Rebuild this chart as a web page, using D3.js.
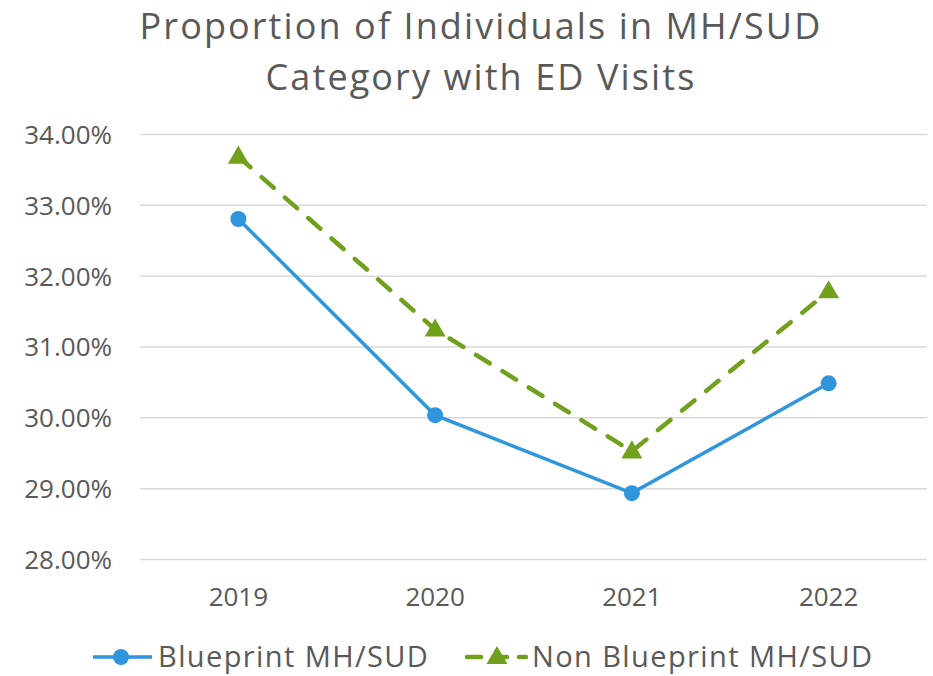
<!DOCTYPE html>
<html>
<head>
<meta charset="utf-8">
<script src="https://cdn.jsdelivr.net/npm/d3@7"></script>
<style>
  body { margin: 0; background: #fff; }
  svg { font-family: "Open Sans", Lato, sans-serif; }
</style>
</head>
<body>
<svg id="chart" width="933" height="676"></svg>
<script>
const years = ['2019', '2020', '2021', '2022'];
const blueprint = [32.80, 30.03, 28.93, 30.48];
const nonBlueprint = [33.68, 31.24, 29.52, 31.78];
const yTicks = [28, 29, 30, 31, 32, 33, 34];
const titleLines = ['Proportion of Individuals in MH/SUD', 'Category with ED Visits'];

const width = 933, height = 676;
const margin = { top: 134, right: 6, bottom: 117, left: 140 };
const blue = '#2f95dc', green = '#71a01d', textColor = '#595959';
const font = '"Open Sans", Lato, sans-serif';

const svg = d3.select('#chart');

const x = d3.scaleBand().domain(years).range([margin.left, width - margin.right]);
const y = d3.scaleLinear().domain([28, 34]).range([height - margin.bottom, margin.top]);

// title
svg.append('g').selectAll('text').data(titleLines).join('text')
  .attr('x', 481).attr('y', (d, i) => 39 + i * 51)
  .attr('text-anchor', 'middle').attr('font-size', 36).attr('letter-spacing', 2.1)
  .attr('fill', textColor)
  .text(d => d);

// grid + y axis
const yAxis = svg.append('g').attr('transform', `translate(${margin.left},0)`)
  .call(d3.axisLeft(y).tickValues(yTicks).tickFormat(d => d.toFixed(2) + '%')
    .tickSize(-(width - margin.left - margin.right)).tickPadding(28));
yAxis.select('.domain').remove();
yAxis.selectAll('line').attr('stroke', '#d9d9d9').attr('stroke-width', 1.5);
yAxis.selectAll('text').attr('font-size', 26).attr('fill', textColor)
  .attr('font-family', font).attr('dy', '0.36em');

// x axis
const xAxis = svg.append('g').attr('transform', `translate(0,${height - margin.bottom})`)
  .call(d3.axisBottom(x).tickSize(0).tickPadding(29));
xAxis.select('.domain').remove();
xAxis.selectAll('text').attr('font-size', 26).attr('fill', textColor)
  .attr('font-family', font);

const cx = d => x(d) + x.bandwidth() / 2;
const line = d3.line().x((d, i) => cx(years[i])).y(d => y(d));

svg.append('path').datum(nonBlueprint)
  .attr('d', line).attr('fill', 'none').attr('stroke', green)
  .attr('stroke-width', 4.5).attr('stroke-dasharray', '16 15').attr('stroke-linecap', 'round');

svg.append('path').datum(blueprint)
  .attr('d', line).attr('fill', 'none').attr('stroke', blue).attr('stroke-width', 3.5);

const tri = d3.symbol().type(d3.symbolTriangle).size(190);

svg.append('g').selectAll('path').data(nonBlueprint).join('path')
  .attr('d', tri).attr('fill', green)
  .attr('transform', (d, i) => `translate(${cx(years[i])},${y(d) + 1})`);

svg.append('g').selectAll('circle').data(blueprint).join('circle')
  .attr('cx', (d, i) => cx(years[i])).attr('cy', d => y(d)).attr('r', 8).attr('fill', blue);

// legend
const legend = svg.append('g');
const items = [
  { name: 'Blueprint MH/SUD', color: blue, x0: 93, dash: null, marker: 'circle' },
  { name: 'Non Blueprint MH/SUD', color: green, x0: 467, dash: '14 12', marker: 'tri' }
];
items.forEach(it => {
  const g = legend.append('g').attr('transform', `translate(${it.x0},657)`);
  g.append('line').attr('x1', 0).attr('x2', 59).attr('stroke', it.color)
    .attr('stroke-width', it.dash ? 4.5 : 3.5).attr('stroke-dasharray', it.dash)
    .attr('stroke-linecap', it.dash ? 'round' : 'butt');
  if (it.marker === 'circle') g.append('circle').attr('cx', 28).attr('r', 8).attr('fill', it.color);
  else g.append('path').attr('d', tri).attr('fill', it.color).attr('transform', 'translate(30,1)');
  g.append('text').attr('x', 65).attr('y', 9.5).attr('font-size', 29).attr('letter-spacing', 1.4)
    .attr('fill', textColor).text(it.name);
});
</script>
</body>
</html>
